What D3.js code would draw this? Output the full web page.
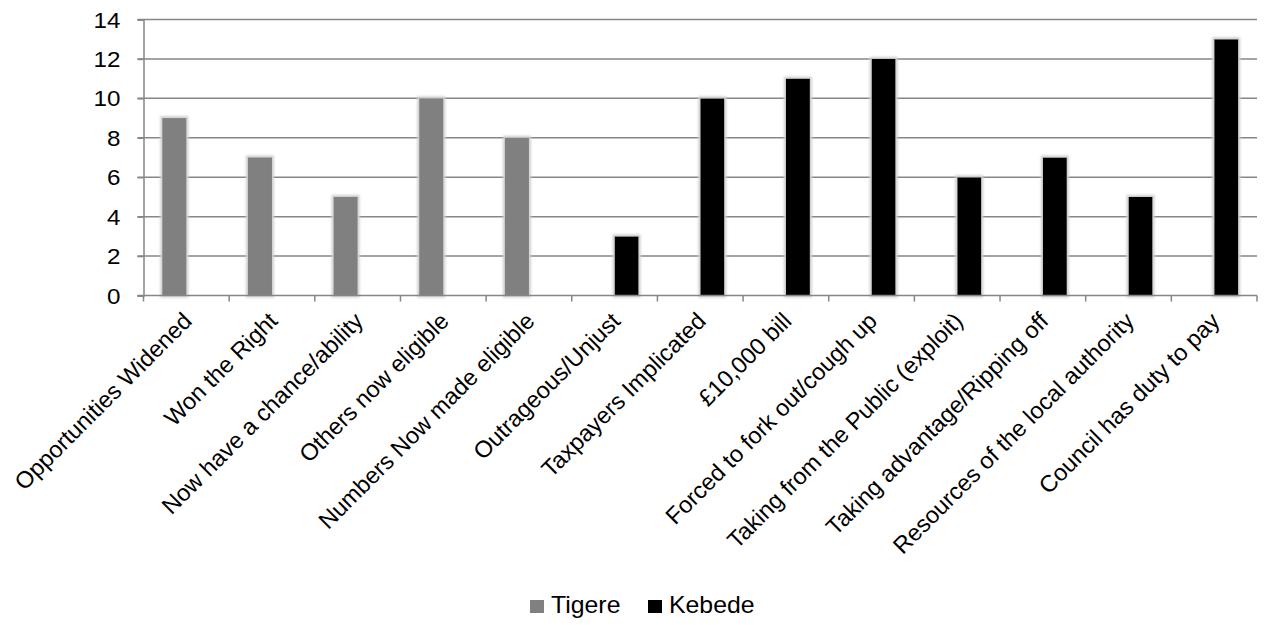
<!DOCTYPE html>
<html>
<head>
<meta charset="utf-8">
<script src="https://cdn.jsdelivr.net/npm/d3@7"></script>
<style>
  html, body { margin: 0; padding: 0; background: #fff; }
  svg { display: block; }
  text { font-family: Arial, "Liberation Sans", sans-serif; fill: #000; }
</style>
</head>
<body>
<svg id="chart" width="1264" height="625"></svg>
<script>
// Categories along the x axis
const categories = [
  "Opportunities Widened",
  "Won the Right",
  "Now have a chance/ability",
  "Others now eligible",
  "Numbers Now made eligible",
  "Outrageous/Unjust",
  "Taxpayers Implicated",
  "£10,000 bill",
  "Forced to fork out/cough up",
  "Taking from the Public (exploit)",
  "Taking advantage/Ripping off",
  "Resources of the local authority",
  "Council has duty to pay"
];

// Series names and their values per category
const seriesNames = ["Tigere", "Kebede"];
const tigereValues = [9, 7, 5, 10, 8, 0, 0, 0, 0, 0, 0, 0, 0];
const kebedeValues = [0, 0, 0, 0, 0, 3, 10, 11, 12, 6, 7, 5, 13];

// Y axis tick values
const yTicks = [0, 2, 4, 6, 8, 10, 12, 14];

const colors = { Tigere: "#808080", Kebede: "#000000" };

const svg = d3.select("#chart");
const margin = { left: 143.5, right: 7, top: 19.5, bottom: 329.5 };
const W = 1264, H = 625;

const x0 = d3.scaleBand()
  .domain(categories)
  .range([margin.left, W - margin.right])
  .paddingInner(0)
  .paddingOuter(0);

const x1 = d3.scaleBand()
  .domain(seriesNames)
  .range([0, x0.bandwidth()])
  .paddingInner(0)
  .paddingOuter(0.78);

const y = d3.scaleLinear()
  .domain([0, 14])
  .range([H - margin.bottom, margin.top]);

const gridColor = "#868686";

// Horizontal gridlines
svg.append("g")
  .selectAll("line")
  .data(yTicks.filter(d => d > 0))
  .join("line")
  .attr("x1", margin.left - 6)
  .attr("x2", W - margin.right)
  .attr("y1", d => y(d))
  .attr("y2", d => y(d))
  .attr("stroke", gridColor)
  .attr("stroke-width", 1.5);

// Soft halo behind bars
const defs = svg.append("defs");
const halo = defs.append("filter").attr("id", "halo")
  .attr("x", "-30%").attr("y", "-5%").attr("width", "160%").attr("height", "110%");
halo.append("feMorphology").attr("in", "SourceAlpha").attr("operator", "dilate").attr("radius", 2).attr("result", "d");
halo.append("feGaussianBlur").attr("in", "d").attr("stdDeviation", 0.8).attr("result", "b");
halo.append("feFlood").attr("flood-color", "#d0d0d0").attr("result", "c");
halo.append("feComposite").attr("in", "c").attr("in2", "b").attr("operator", "in").attr("result", "h");
const hm = halo.append("feMerge");
hm.append("feMergeNode").attr("in", "h");
hm.append("feMergeNode").attr("in", "SourceGraphic");

// Build rows for the grouped bars
const rows = categories.map((c, i) => ({
  category: c,
  Tigere: tigereValues[i],
  Kebede: kebedeValues[i]
}));

const bars = svg.append("g").attr("filter", "url(#halo)");
bars.selectAll("g")
  .data(rows)
  .join("g")
  .attr("transform", d => `translate(${x0(d.category)},0)`)
  .selectAll("rect")
  .data(d => seriesNames.map(s => ({ key: s, value: d[s] })).filter(e => e.value > 0))
  .join("rect")
  .attr("x", d => x1(d.key))
  .attr("width", x1.bandwidth())
  .attr("y", d => y(d.value))
  .attr("height", d => y(0) - y(d.value))
  .attr("fill", d => colors[d.key]);

// Y axis
const yAxis = svg.append("g")
  .attr("transform", `translate(${margin.left},0)`)
  .call(d3.axisLeft(y).tickValues(yTicks).tickSize(6).tickPadding(0).tickFormat(d3.format("d")));
yAxis.select(".domain").attr("stroke", gridColor).attr("stroke-width", 1.5);
yAxis.selectAll(".tick line").attr("stroke", gridColor).attr("stroke-width", 1.5);
yAxis.selectAll(".tick text")
  .attr("x", null)
  .attr("dy", null)
  .attr("font-size", 22)
  .attr("font-family", "Arial, 'Liberation Sans', sans-serif")
  .attr("fill", "#000")
  .attr("text-anchor", "end")
  .attr("dominant-baseline", "central")
  .attr("transform", "translate(-23,0) scale(1.1,1)");

// X axis with ticks at category boundaries
const xAxisG = svg.append("g").attr("transform", `translate(0,${y(0)})`);
xAxisG.append("line")
  .attr("x1", margin.left - 6)
  .attr("x2", W - margin.right)
  .attr("stroke", gridColor)
  .attr("stroke-width", 1.5);
const boundaries = categories.map(c => x0(c)).concat([x0.range()[1]]);
xAxisG.selectAll("line.tk")
  .data(boundaries)
  .join("line")
  .attr("class", "tk")
  .attr("x1", d => d).attr("x2", d => d)
  .attr("y1", 0).attr("y2", 6)
  .attr("stroke", gridColor)
  .attr("stroke-width", 1.5);

// Rotated category labels
xAxisG.selectAll("text")
  .data(categories)
  .join("text")
  .attr("transform", d => `translate(${x0(d) + x0.bandwidth() / 2 + 7},27) rotate(-45)`)
  .attr("text-anchor", "end")
  .attr("font-size", 23.5)
  .text(d => d);

// Legend
const legend = svg.append("g").attr("transform", "translate(0,605)");
const legendItems = [
  { key: "Tigere", x: 530 },
  { key: "Kebede", x: 648 }
];
legendItems.forEach(it => {
  legend.append("rect")
    .attr("x", it.x).attr("y", -5)
    .attr("width", 14).attr("height", 13)
    .attr("fill", colors[it.key]);
  legend.append("text")
    .attr("transform", `translate(${it.x + 21},8) scale(1.08,1)`)
    .attr("font-size", 23)
    .text(it.key);
});
</script>
</body>
</html>
